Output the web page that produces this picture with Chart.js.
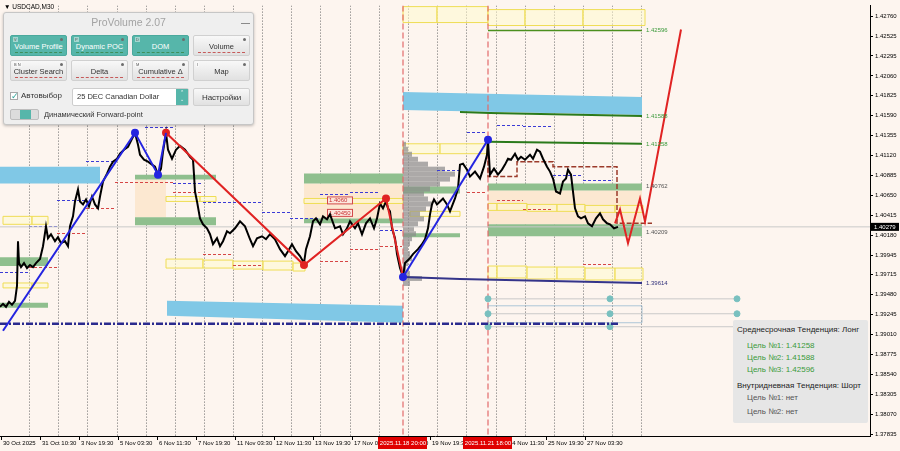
<!DOCTYPE html>
<html>
<head>
<meta charset="utf-8">
<script src="https://cdn.jsdelivr.net/npm/chart.js@4.4.1/dist/chart.umd.min.js"></script>
<style>
html, body { margin: 0; padding: 0; background: #fdf5ef; }
#wrap { position: relative; width: 900px; height: 451px; overflow: hidden; font-family: "Liberation Sans", Arial, sans-serif; }
#chart { position: absolute; left: 0; top: 0; }
#sym { position: absolute; left: 4px; top: 3px; font-size: 6.5px; color: #000; }
#pv { position: absolute; left: 3px; top: 12px; width: 251px; height: 113px; background: #efefef; border: 1px solid #c6c6c6; border-radius: 3px; box-sizing: border-box; box-shadow: 0 1px 3px rgba(0,0,0,.25); }
#pvTitle { position: absolute; left: 0; right: 0; top: 3px; text-align: center; color: #a3a3a3; font-size: 10.5px; }
#pvMin { position: absolute; left: 237px; top: 10px; width: 9px; height: 1px; background: #8a8a8a; }
.b { position: absolute; width: 57px; height: 21px; border-radius: 2px; box-sizing: border-box; font-size: 7.5px; line-height: 21px; text-align: center; color: #333; background: linear-gradient(#f8f8f8, #e1e1e1); border: 1px solid #d0d0d0; }
.b.on { background: #56b6aa; color: #fff; border-color: #4aa99d; }
.k { position: absolute; left: 2px; top: 1px; font-size: 4px; line-height: 5px; font-style: normal; padding: 0 1px; color: #555; background: rgba(255,255,255,.45); }
.g { position: absolute; right: 3px; top: 2px; width: 3px; height: 3px; border-radius: 50%; background: #6d6d6d; }
.b u { position: absolute; left: 4px; right: 4px; bottom: 2px; height: 0; border-bottom: 1px dashed #c65a5a; }
.b.on u { border-bottom-color: #3f8f5a; }
#chk { position: absolute; left: 6px; top: 79px; width: 8px; height: 8px; background: #fff; border: 1px solid #a8a8a8; box-sizing: border-box; color: #2fa59a; font-size: 9px; line-height: 6px; }
#auto { position: absolute; left: 17px; top: 78px; font-size: 8px; color: #333; }
#dd { position: absolute; left: 68px; top: 75px; width: 117px; height: 18px; background: #fff; border: 1px solid #cdcdcd; box-sizing: border-box; font-size: 7.5px; line-height: 16px; padding-left: 4px; color: #333; border-radius: 2px; }
#ddA { position: absolute; right: 0; top: 0; width: 12px; height: 16px; background: #56b6aa; color: #fff; font-size: 5px; line-height: 7px; text-align: center; }
#set { top: 75px; left: 189px; height: 18px; line-height: 18px; font-size: 8px; }
#tg { position: absolute; left: 6px; top: 96px; width: 29px; height: 11px; background: #dcdcdc; border: 1px solid #bdbdbd; box-sizing: border-box; border-radius: 2px; }
#tgK { position: absolute; left: 9px; top: 0; width: 11px; height: 9px; background: #56b6aa; }
#fw { position: absolute; left: 40px; top: 96px; font-size: 7.5px; line-height: 11px; color: #333; }
#info { position: absolute; left: 733px; top: 320px; width: 135px; height: 103px; background: #e6e6e6; border-radius: 2px; font-size: 8px; }
#info div { position: absolute; white-space: nowrap; }
.hd { color: #1d1d1d; left: 4px; }
.ok { color: #3a9a3a; left: 14px; }
.no { color: #555; left: 14px; }
</style>
</head>
<body>
<div id="wrap">
  <canvas id="chart" width="900" height="451"></canvas>
  <div id="sym">&#9660; USDCAD,M30</div>

  <div id="pv">
    <div id="pvTitle">ProVolume 2.07</div>
    <div id="pvMin"></div>
    <div class="b on" style="left:6px;top:22px"><i class="k">V</i><i class="g"></i>Volume Profile<u></u></div>
    <div class="b on" style="left:67px;top:22px"><i class="k">P</i><i class="g"></i>Dynamic POC<u></u></div>
    <div class="b on" style="left:128px;top:22px"><i class="k">D</i><i class="g"></i>DOM<u></u></div>
    <div class="b" style="left:189px;top:22px"><i class="g"></i>Volume<u></u></div>
    <div class="b" style="left:6px;top:47px"><i class="k">B N</i><i class="g"></i>Cluster Search<u></u></div>
    <div class="b" style="left:67px;top:47px"><i class="g"></i>Delta<u></u></div>
    <div class="b" style="left:128px;top:47px"><i class="k">M</i><i class="g"></i>Cumulative &Delta;<u></u></div>
    <div class="b" style="left:189px;top:47px"><i class="k">I</i><i class="g"></i>Map</div>
    <div id="chk">&#10003;</div>
    <div id="auto">Автовыбор</div>
    <div id="dd">25 DEC Canadian Dollar<div id="ddA">&#8963;<br>&#8964;</div></div>
    <div class="b" id="set">Настройки</div>
    <div id="tg"><div id="tgK"></div></div>
    <div id="fw">Динамический Forward-point</div>
  </div>

  <div id="info">
    <div class="hd" style="top:5px">Среднесрочная Тенденция: Лонг</div>
    <div class="ok" style="top:21px">Цель №1: 1.41258</div>
    <div class="ok" style="top:33px">Цель №2: 1.41588</div>
    <div class="ok" style="top:45px">Цель №3: 1.42596</div>
    <div class="hd" style="top:61px">Внутридневная Тенденция: Шорт</div>
    <div class="no" style="top:73px">Цель №1: нет</div>
    <div class="no" style="top:87px">Цель №2: нет</div>
  </div>
</div>

<script>
// axis
const priceTicks = [1.42760, 1.42525, 1.42295, 1.42060, 1.41825, 1.41590, 1.41355, 1.41120, 1.40885, 1.40650, 1.40415,
    1.40180, 1.39945, 1.39715, 1.39480, 1.39245, 1.39010, 1.38775, 1.38540, 1.38305, 1.38070, 1.37835];
const timeTickBars = [1, 40, 79, 118, 157, 196, 235, 274, 313, 352, 391, 430, 468, 507, 546, 585];
const timeTickLabels = ['30 Oct 2025', '31 Oct 10:30', '3 Nov 19:30', '5 Nov 03:30', '6 Nov 11:30', '7 Nov 19:30',
    '11 Nov 03:30', '12 Nov 11:30', '13 Nov 19:30', '17 Nov 03:30', '18 Nov 11:30', '19 Nov 19:30',
    '21 Nov 03:30', '24 Nov 11:30', '25 Nov 19:30', '27 Nov 03:30'];
const gridBars = [29, 58, 87, 117, 146, 175, 204, 233, 262, 291, 320, 350, 379, 408, 437, 466, 496, 525, 554, 583, 612, 641];
const markerBars = [403, 488];
const markerLabels = ['2025.11.18 20:00', '2025.11.21 18:00'];
const lastPrice = 1.40279;

// price (M30 closes)
const priceBars = [
    0, 3, 6, 9, 12, 15, 17, 18, 19, 21,
    24, 27, 30, 33, 36, 40, 43, 46, 48, 51,
    55, 58, 61, 65, 68, 70, 73, 75, 78, 80,
    83, 86, 89, 92, 95, 98, 100, 103, 107, 110,
    113, 117, 120, 124, 128, 132, 135, 138, 140, 144,
    148, 152, 155, 158, 161, 163, 166, 168, 172, 176,
    180, 185, 190, 193, 194, 195, 197, 200, 203, 207,
    210, 213, 217, 220, 223, 227, 230, 235, 240, 245,
    250, 253, 257, 262, 266, 270, 275, 280, 285, 288,
    292, 296, 300, 304, 306, 310, 313, 316, 320, 323,
    327, 330, 335, 340, 343, 347, 350, 355, 358, 362,
    366, 370, 374, 377, 380, 383, 386, 388, 390, 392,
    395, 397, 400, 403, 405, 410, 413, 418, 422, 425,
    428, 430, 432, 434, 437, 440, 443, 447, 450, 455,
    458, 460, 463, 467, 470, 475, 480, 484, 487, 488,
    490, 494, 498, 502, 505, 508, 511, 515, 518, 521,
    525, 530, 533, 537, 540, 543, 547, 550, 553, 556,
    560, 563, 566, 568, 571, 573, 575, 578, 581, 585,
    588, 592, 596, 600, 603, 607, 610, 614, 618];
const priceClose = [
    1.39336, 1.39371, 1.39336, 1.39394, 1.39359, 1.39406, 1.39582, 1.40110, 1.39852, 1.39805,
    1.39852, 1.39793, 1.39828, 1.39805, 1.39852, 1.39899, 1.40051, 1.40286, 1.40145, 1.40192,
    1.40110, 1.40157, 1.40086, 1.40110, 1.40051, 1.40286, 1.40403, 1.40579, 1.40720, 1.40579,
    1.40544, 1.40602, 1.40520, 1.40637, 1.40544, 1.40497, 1.40637, 1.40813, 1.40907, 1.40989,
    1.41048, 1.41083, 1.41142, 1.41189, 1.41224, 1.41318, 1.41388, 1.41247, 1.41130, 1.41071,
    1.41048, 1.41013, 1.40989, 1.40895, 1.40966, 1.41165, 1.41388, 1.41189, 1.41083, 1.41189,
    1.41235, 1.41189, 1.41106, 1.41071, 1.40895, 1.40696, 1.40579, 1.40379, 1.40309, 1.40262,
    1.40192, 1.40075, 1.40145, 1.40051, 1.40110, 1.40227, 1.40204, 1.40262, 1.40344, 1.40286,
    1.40133, 1.40051, 1.40145, 1.40168, 1.40133, 1.40192, 1.40133, 1.40016, 1.39934, 1.39992,
    1.40075, 1.39992, 1.39934, 1.39852, 1.40016, 1.40168, 1.40344, 1.40379, 1.40309, 1.40403,
    1.40368, 1.40426, 1.40262, 1.40286, 1.40192, 1.40262, 1.40344, 1.40262, 1.40321, 1.40192,
    1.40321, 1.40379, 1.40262, 1.40379, 1.40555, 1.40497, 1.40579, 1.40497, 1.40462, 1.40262,
    1.40145, 1.39957, 1.39793, 1.39688, 1.39852, 1.39910, 1.39957, 1.40016, 1.40075, 1.40133,
    1.40262, 1.40426, 1.40544, 1.40602, 1.40544, 1.40579, 1.40614, 1.40544, 1.40462, 1.40614,
    1.40731, 1.41013, 1.41024, 1.40954, 1.40872, 1.40931, 1.40849, 1.40989, 1.41130, 1.41306,
    1.40895, 1.40966, 1.40895, 1.40954, 1.41013, 1.41083, 1.41071, 1.41142, 1.41071, 1.41106,
    1.41071, 1.41130, 1.41083, 1.41189, 1.41165, 1.41083, 1.40989, 1.40931, 1.40849, 1.40696,
    1.40673, 1.40813, 1.40849, 1.40954, 1.40895, 1.40696, 1.40497, 1.40403, 1.40379, 1.40403,
    1.40321, 1.40286, 1.40379, 1.40438, 1.40368, 1.40321, 1.40309, 1.40262, 1.40279];

// zigzag swings [bar, price]
const zigzagUp1 = [[3, 1.39054], [135, 1.41388], [158, 1.40895], [166, 1.41388]];
const zigzagDown = [[166, 1.41388], [304, 1.39828], [386, 1.40614], [403, 1.39688]];
const zigzagUp2 = [[403, 1.39688], [488, 1.41306]];
const forecastPath = [[615, 1.40321], [620, 1.40485], [628, 1.40086], [640, 1.40614], [645, 1.40344], [681, 1.42607]];

// target levels
const target3Line = [[488, 1.42596], [642, 1.42596]];
const target2Line = [[460, 1.41634], [490, 1.41622], [642, 1.41588]];
const target1Line = [[488, 1.41282], [642, 1.41258]];
const supportLine = [[403, 1.39688], [460, 1.39664], [642, 1.39617]];
const weeklyOpenLine = [[0, 1.39137], [618, 1.39137]];
const pocSteps = [[488, 1.41306], [488, 1.40872], [517, 1.40872], [517, 1.41048], [553, 1.41048],
    [553, 1.40989], [617, 1.40989], [617, 1.40321], [652, 1.40321]];
const levelLabelPrices = [1.42596, 1.41588, 1.41258, 1.40762, 1.40209, 1.39614];
const levelLabelBar = 646;

// zones [fromBar, toBar, upper, lower, (upperRight, lowerRight)]
const blueZones = [
    [0, 100, 1.40989, 1.40790],
    [167, 403, 1.39406, 1.39230, 1.39348, 1.39148],
    [403, 642, 1.41869, 1.41658, 1.41810, 1.41599]];
const greenZones = [
    [0, 48, 1.39922, 1.39817], [0, 48, 1.39383, 1.39324],
    [135, 216, 1.40895, 1.40837], [135, 216, 1.40391, 1.40297],
    [304, 403, 1.40907, 1.40790], [304, 403, 1.40379, 1.40321],
    [403, 460, 1.40755, 1.40673], [403, 460, 1.40204, 1.40157],
    [488, 642, 1.40790, 1.40708], [488, 642, 1.40309, 1.40168]];
const peachZones = [
    [135, 166, 1.40837, 1.40391],
    [304, 403, 1.40790, 1.40379],
    [488, 642, 1.40708, 1.40309]];
const yellowBoxes = [
    [3, 32, 1.40403, 1.40309], [32, 48, 1.40403, 1.40309],
    [3, 32, 1.39617, 1.39559], [32, 48, 1.39617, 1.39559],
    [166, 200, 1.40637, 1.40579], [200, 216, 1.40637, 1.40579],
    [166, 203, 1.39899, 1.39793], [203, 233, 1.39887, 1.39793], [233, 263, 1.39875, 1.39781],
    [263, 293, 1.39875, 1.39770], [293, 305, 1.39852, 1.39758],
    [304, 403, 1.40614, 1.40555],
    [403, 440, 1.41259, 1.41142], [440, 487, 1.41259, 1.41142],
    [410, 460, 1.40462, 1.40403],
    [488, 497, 1.40555, 1.40473], [497, 527, 1.40555, 1.40473], [527, 557, 1.40544, 1.40462],
    [557, 585, 1.40544, 1.40462], [585, 615, 1.40532, 1.40450], [615, 643, 1.40532, 1.40450],
    [488, 497, 1.39817, 1.39676], [497, 527, 1.39817, 1.39676], [527, 557, 1.39805, 1.39664],
    [557, 585, 1.39805, 1.39664], [585, 615, 1.39793, 1.39652], [615, 643, 1.39793, 1.39652],
    [403, 437, 1.42877, 1.42689], [437, 488, 1.42877, 1.42689], [488, 525, 1.42842, 1.42654],
    [525, 583, 1.42842, 1.42654], [583, 645, 1.42842, 1.42654]];
const highDashes = [
    [145, 173, 1.41458], [86, 115, 1.41060], [173, 203, 1.40802], [57, 86, 1.40591], [29, 57, 1.40286],
    [0, 29, 1.39746], [203, 262, 1.40567], [262, 290, 1.40450], [290, 320, 1.40379], [320, 350, 1.40661],
    [350, 380, 1.40696], [380, 402, 1.40239], [437, 460, 1.40954], [467, 487, 1.41400], [497, 523, 1.41482],
    [523, 553, 1.41470], [553, 583, 1.40895], [583, 613, 1.40837]];
const lowDashes = [
    [115, 173, 1.40813], [173, 203, 1.40696], [86, 115, 1.40497], [57, 86, 1.40204], [29, 57, 1.39805],
    [203, 233, 1.39957], [233, 262, 1.39828], [320, 350, 1.39875], [350, 380, 1.40016], [380, 402, 1.40051],
    [467, 487, 1.40696], [497, 523, 1.40591], [523, 553, 1.40485], [583, 613, 1.39840]];

// volume profile of the 18-21 Nov range
const profileStartBar = 403;
const profilePrices = [1.41282, 1.41224, 1.41165, 1.41106, 1.41048, 1.40989, 1.40931, 1.40872, 1.40813, 1.40755,
    1.40696, 1.40637, 1.40579, 1.40520, 1.40462, 1.40403, 1.40344, 1.40286, 1.40227, 1.40168,
    1.40110, 1.40051, 1.39992, 1.39934, 1.39875, 1.39817, 1.39758, 1.39699, 1.39641];
const profileSizes = [3, 5, 9, 15, 25, 42, 52, 47, 37, 27, 21, 25, 29, 23, 17, 21, 15, 11, 13, 9, 7, 5, 7, 9, 5, 3, 7, 19, 7];

// price labels on the chart
const boxLabelBars = [327, 327];
const boxLabelPrices = [1.40591, 1.40444];
const boxLabelTexts = ['1.4060', '1.40450'];

// forward-point nodes
const nodeBars = [488, 610, 737];
const nodePrices = [1.39430, 1.39254, 1.39101];
const nodeBox = [488, 642, 1.39348, 1.39148];

const pts = arr => arr.map(p => ({x: p[0], y: p[1]}));
const font6 = '6px "Liberation Sans", Arial, sans-serif';

const zonesPlugin = {
    id: 'zones',
    beforeDatasetsDraw(chart) {
        const {ctx, chartArea, scales: {x, y}} = chart;
        const X = v => x.getPixelForValue(v);
        const Y = v => y.getPixelForValue(v);
        ctx.save();
        ctx.beginPath();
        ctx.rect(chartArea.left, chartArea.top, chartArea.right - chartArea.left, chartArea.bottom - chartArea.top);
        ctx.clip();

        // dotted vertical grid
        ctx.strokeStyle = '#6a6a6a';
        ctx.lineWidth = 1;
        ctx.setLineDash([1, 2]);
        gridBars.forEach(b => {
            const px = Math.round(X(b)) + 0.5;
            ctx.beginPath();
            ctx.moveTo(px, chartArea.top);
            ctx.lineTo(px, chartArea.bottom);
            ctx.stroke();
        });
        ctx.setLineDash([]);

        const band = (z, fill, stroke) => {
            const [x0, x1, a, b] = z;
            const c = z.length > 4 ? z[4] : a;
            const d = z.length > 4 ? z[5] : b;
            ctx.beginPath();
            ctx.moveTo(X(x0), Y(a));
            ctx.lineTo(X(x1), Y(c));
            ctx.lineTo(X(x1), Y(d));
            ctx.lineTo(X(x0), Y(b));
            ctx.closePath();
            ctx.fillStyle = fill;
            ctx.fill();
            if (stroke) {
                ctx.strokeStyle = stroke;
                ctx.lineWidth = 1;
                ctx.stroke();
            }
        };
        peachZones.forEach(z => band(z, '#fce8d1'));
        greenZones.forEach(z => band(z, '#8fbf8e'));
        blueZones.forEach(z => band(z, '#80c8e6'));
        yellowBoxes.forEach(z => band(z, 'rgba(255,250,205,0.55)', '#efdd55'));

        // volume profile
        ctx.fillStyle = 'rgba(140,140,140,0.72)';
        profilePrices.forEach((p, i) => {
            const top = Y(p);
            const next = i < profilePrices.length - 1 ? Y(profilePrices[i + 1]) : top + 5;
            ctx.fillRect(X(profileStartBar), top, X(profileStartBar + profileSizes[i]) - X(profileStartBar), next - top);
        });

        // swing high / low dashes
        ctx.lineWidth = 1;
        ctx.setLineDash([3, 2]);
        const dash = (d, col) => {
            ctx.strokeStyle = col;
            const py = Math.round(Y(d[2])) + 0.5;
            ctx.beginPath();
            ctx.moveTo(X(d[0]), py);
            ctx.lineTo(X(d[1]), py);
            ctx.stroke();
        };
        highDashes.forEach(d => dash(d, '#3b3bd6'));
        lowDashes.forEach(d => dash(d, '#d64545'));

        // session markers
        ctx.strokeStyle = 'rgba(228,105,105,0.8)';
        ctx.lineWidth = 1.5;
        ctx.setLineDash([6, 3]);
        markerBars.forEach(b => {
            ctx.beginPath();
            ctx.moveTo(X(b), chartArea.top);
            ctx.lineTo(X(b), chartArea.bottom);
            ctx.stroke();
        });
        ctx.setLineDash([]);

        // forward-point box
        band(nodeBox, 'rgba(255,255,255,0)', 'rgba(140,180,205,0.7)');

        // on-chart price labels
        ctx.font = font6;
        ctx.textBaseline = 'middle';
        boxLabelTexts.forEach((t, i) => {
            const px = X(boxLabelBars[i]);
            const py = Y(boxLabelPrices[i]);
            ctx.fillStyle = 'rgba(253,232,225,0.9)';
            ctx.fillRect(px, py - 4, 26, 8);
            ctx.strokeStyle = '#d24a4a';
            ctx.lineWidth = 1;
            ctx.strokeRect(px + 0.5, py - 3.5, 25, 7);
            ctx.fillStyle = '#c83030';
            ctx.fillText(t, px + 2, py);
        });
        ctx.restore();
    },
    afterDatasetsDraw(chart) {
        const {ctx, scales: {x, y}} = chart;
        ctx.save();
        ctx.font = font6;
        ctx.textBaseline = 'middle';
        const cols = ['#3c9a3c', '#3c9a3c', '#3c9a3c', '#555555', '#555555', '#30307a'];
        levelLabelPrices.forEach((p, i) => {
            ctx.fillStyle = cols[i];
            ctx.fillText(p.toFixed(5), x.getPixelForValue(levelLabelBar), y.getPixelForValue(p));
        });
        ctx.restore();
    },
    afterDraw(chart) {
        const {ctx, chartArea, scales: {x, y}} = chart;
        ctx.save();
        ctx.font = font6;
        ctx.textBaseline = 'middle';
        ctx.textAlign = 'center';
        markerLabels.forEach((t, i) => {
            const px = x.getPixelForValue(markerBars[i]);
            ctx.fillStyle = '#e00000';
            ctx.fillRect(px - 25, chartArea.bottom + 1, 49, 12);
            ctx.fillStyle = '#fff';
            ctx.fillText(t, px, chartArea.bottom + 7);
        });
        const py = y.getPixelForValue(lastPrice);
        ctx.fillStyle = '#000';
        ctx.fillRect(chartArea.right + 1, py - 4, 28, 8);
        ctx.fillStyle = '#fff';
        ctx.textAlign = 'left';
        ctx.fillText(lastPrice.toFixed(5), chartArea.right + 4, py);
        ctx.restore();
    }
};

const line = (data, color, width, extra) => Object.assign({
    data: pts(data), borderColor: color, borderWidth: width, pointRadius: 0, tension: 0, fill: false
}, extra || {});

const nodeSets = nodePrices.map(p => line(nodeBars.map(b => [b, p]), '#c9c9c9', 1, {
    pointRadius: 3, pointBackgroundColor: '#79c0bf', pointBorderColor: '#79c0bf'
}));

new Chart(document.getElementById('chart'), {
    type: 'line',
    data: {
        datasets: [
            line(forecastPath, '#e02323', 2),
            line(zigzagUp1, '#2424e0', 2, {pointRadius: [0, 3, 3, 0], pointBackgroundColor: '#2424e0'}),
            line(zigzagUp2, '#2424e0', 2, {pointRadius: [3, 3], pointBackgroundColor: '#2424e0'}),
            line(zigzagDown, '#e02323', 2, {pointRadius: [3, 3, 3, 0], pointBackgroundColor: '#e02323'}),
            line(priceBars.map((b, i) => [b, priceClose[i]]), '#000000', 2),
            line(pocSteps, '#9b3a2a', 1.5, {borderDash: [5, 2]}),
            line(target3Line, '#4b8f1e', 1.5),
            line(target2Line, '#2b7a1b', 2),
            line(target1Line, '#2b7a1b', 2),
            line(supportLine, '#34348a', 2),
            line(weeklyOpenLine, '#2a2a8e', 2.5, {borderDash: [7, 2, 2, 2]}),
            ...nodeSets,
            line([[0, lastPrice], [870, lastPrice]], '#c9c9c9', 1)
        ]
    },
    options: {
        responsive: false,
        animation: false,
        devicePixelRatio: 1,
        layout: {padding: {top: 3, left: 0, right: 0, bottom: 0}, autoPadding: false},
        plugins: {legend: {display: false}, tooltip: {enabled: false}},
        scales: {
            x: {
                type: 'linear',
                position: 'bottom',
                min: 0,
                max: 870,
                afterBuildTicks: s => { s.ticks = timeTickBars.map(v => ({value: v})); },
                afterFit: s => { s.height = 15; },
                grid: {drawOnChartArea: false, drawTicks: true, tickLength: 4, color: '#000'},
                border: {display: true, color: '#000'},
                ticks: {
                    autoSkip: false, maxRotation: 0, align: 'start', labelOffset: 2, padding: 0,
                    color: '#000', font: {family: '"Liberation Sans", Arial, sans-serif', size: 6},
                    callback: (v, i) => timeTickLabels[i]
                }
            },
            y: {
                type: 'linear',
                position: 'right',
                min: 1.37812,
                max: 1.42889,
                afterBuildTicks: s => { s.ticks = priceTicks.map(v => ({value: v})); },
                afterFit: s => { s.width = 30; },
                grid: {drawOnChartArea: false, drawTicks: true, tickLength: 3, color: '#000'},
                border: {display: true, color: '#000'},
                ticks: {
                    padding: 2, color: '#000', font: {family: '"Liberation Sans", Arial, sans-serif', size: 6},
                    callback: v => v.toFixed(5)
                }
            }
        }
    },
    plugins: [zonesPlugin]
});
</script>
</body>
</html>
